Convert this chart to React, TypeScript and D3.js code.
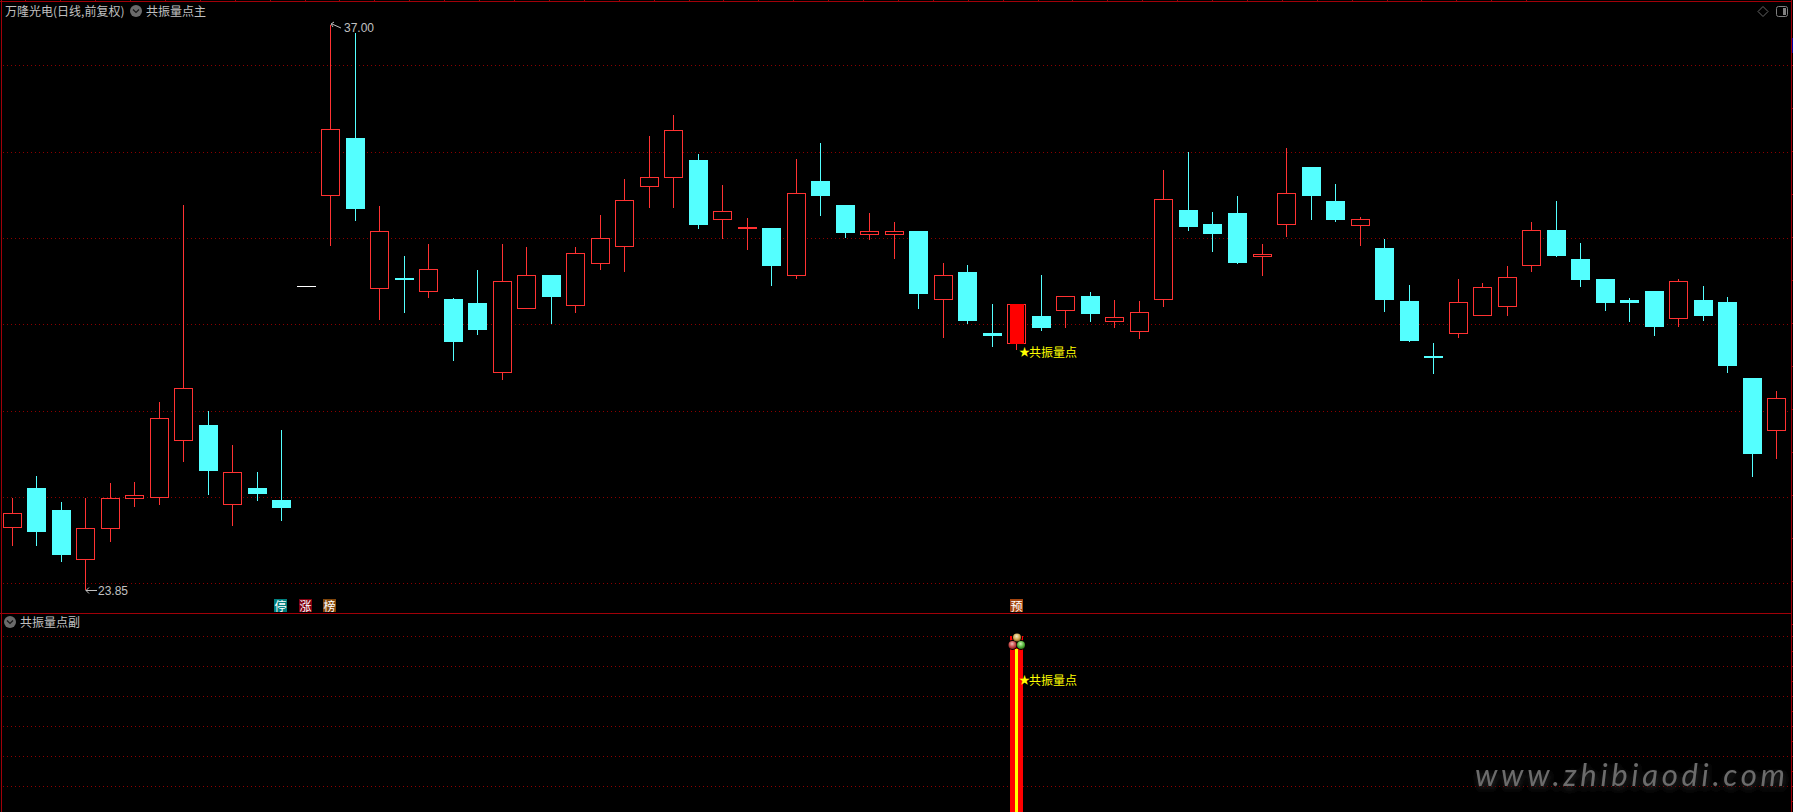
import React from "react";
import * as d3 from "d3";

const WIDTH = 1793;
const HEIGHT = 812;

// Daily bars (open / high / low / close, oldest first)
const opens = [25.32,26.22,25.71,24.57,25.29,25.99,26.01,27.34,27.69,25.85,26.22,25.94,30.93,33.04,34.37,30.88,31.11,30.81,30.62,30.53,28.92,30.41,31.18,30.48,31.46,31.86,33.25,33.46,33.86,32.49,32.28,32.28,31.18,33.37,32.81,32.14,32.14,32.21,30.62,31.25,29.83,29.60,30.23,30.37,30.69,30.11,29.88,30.62,32.69,32.37,32.62,31.62,32.37,33.70,32.90,32.35,31.81,30.58,29.30,29.83,30.25,30.46,31.41,32.23,31.55,31.09,30.60,30.81,30.18,30.60,30.55,28.78,27.57];
const highs = [25.99,26.50,25.90,25.99,26.34,26.36,28.23,32.81,28.02,27.23,26.60,27.57,30.93,37.00,36.81,32.79,31.62,31.90,30.65,31.30,31.90,31.83,31.18,31.83,32.58,33.42,34.42,34.91,34.00,33.28,32.51,32.28,33.88,34.25,32.81,32.62,32.41,32.21,31.46,31.41,30.51,30.51,31.18,30.69,30.79,30.60,30.58,33.63,34.04,32.65,33.02,31.90,34.14,33.70,33.30,32.53,32.02,30.95,29.60,31.09,31.00,31.39,32.41,32.90,31.93,31.09,30.65,30.81,31.09,30.93,30.67,28.78,28.48];
const lows = [24.87,24.87,24.50,23.85,24.97,25.78,25.83,26.83,26.06,25.34,25.92,25.46,30.93,31.86,32.44,30.13,30.30,30.65,29.18,29.79,28.74,30.41,30.04,30.30,31.30,31.25,32.74,32.74,32.25,32.02,31.76,30.93,31.09,32.55,32.04,32.00,31.55,30.39,29.72,30.04,29.51,29.44,29.88,29.95,30.09,29.95,29.69,30.44,32.21,31.72,31.44,31.16,32.07,32.46,32.41,31.86,30.32,29.62,28.88,29.72,30.25,30.23,31.25,31.60,30.90,30.34,30.09,29.76,29.97,30.11,28.90,26.48,26.90];
const closes = [25.64,25.20,24.66,25.29,25.99,26.06,27.85,28.55,26.62,26.60,26.08,25.76,30.93,34.58,32.72,32.21,31.07,31.32,29.62,29.90,31.04,31.18,30.67,31.69,32.04,32.93,33.46,34.56,32.35,32.67,32.30,31.39,33.09,33.02,32.16,32.21,32.21,30.74,31.18,30.11,29.76,30.51,29.95,30.69,30.27,30.20,30.32,32.95,32.30,32.14,31.46,31.67,33.09,33.02,32.46,32.49,30.60,29.65,29.25,30.55,30.90,31.14,32.23,31.62,31.07,30.53,30.53,29.97,31.04,30.23,29.06,27.02,28.32];
// 0 = falling (cyan), 1 = rising (red outline), 2 = flat (white)
const kinds = [1,0,0,1,1,1,1,1,0,1,0,0,2,1,0,1,0,1,0,0,1,1,0,1,1,1,1,1,0,1,1,0,1,0,0,1,1,0,1,0,0,1,0,1,0,1,1,1,0,0,0,1,1,0,0,1,0,0,0,1,1,1,1,0,0,0,0,0,1,0,0,0,1];

const priceGrid = [36.07, 34.05, 32.05, 30.05, 28.02, 26.01, 24.01];
const subGrid = [0, 1, 2, 3, 4, 5];
const priceDomain = [23.85, 37];
const subDomain = [0, 5];
const signalIndex = 41;
const highIndex = 13;
const lowIndex = 3;
const tagLabels = [
  { index: 11, text: "停", color: "#007f7f" },
  { index: 12, text: "涨", color: "#800010" },
  { index: 13, text: "榜", color: "#80450a" },
  { index: 41, text: "预", color: "#a5450f" },
];

const RED = "#ff3232";
const CYAN = "#54ffff";
const FRAME = "#a00008";
const GRID = "#8c0000";
const CJK = "'Noto Sans CJK SC', sans-serif";

const x = d3.scaleLinear().domain([0, 72]).range([12, 12 + 72 * 24.51]);
const y = d3.scaleLinear().domain(priceDomain).range([590, 25]);
const sub = d3.scaleLinear().domain(subDomain).range([786, 636]);
const px = (i: number) => Math.floor(x(i));
const py = (v: number) => Math.round(y(v));

function Candle({ i }: { i: number }) {
  const c = px(i) + 0.5;
  const kind = kinds[i];
  const top = py(Math.max(opens[i], closes[i]));
  const bot = py(Math.min(opens[i], closes[i]));
  const hi = py(highs[i]);
  const lo = py(lows[i]);
  if (kind === 2) {
    return <line x1={c - 9.5} x2={c + 9.5} y1={top + 0.5} y2={top + 0.5} stroke="#ffffff" />;
  }
  const color = kind === 1 ? RED : CYAN;
  return (
    <g>
      <line x1={c} x2={c} y1={hi} y2={lo} stroke={color} />
      {kind === 1 ? (
        <rect x={c - 9} y={top + 0.5} width={18} height={bot - top} fill="#000" stroke={color} />
      ) : (
        <rect x={c - 9.5} y={top} width={19} height={bot - top} fill={color} />
      )}
    </g>
  );
}

function Chevron({ cx, cy }: { cx: number; cy: number }) {
  return (
    <g>
      <circle cx={cx} cy={cy} r={6} fill="#6a6a6a" />
      <path d={`M${cx - 3},${cy - 1.5}L${cx},${cy + 1.5}L${cx + 3},${cy - 1.5}`} fill="none" stroke="#161616" strokeWidth={1.2} />
    </g>
  );
}

function Signal({ cy }: { cy: number }) {
  return (
    <text y={cy} fill="#ffff00" fontFamily={CJK} fontSize={12} dominantBaseline="central">
      <tspan x={1019} fontSize={11}>★</tspan>
      <tspan x={1029}>共振量点</tspan>
    </text>
  );
}

export default function App() {
  const sig = px(signalIndex);
  const sigTop = py(closes[signalIndex]);
  const sigBot = py(opens[signalIndex]);
  const colTop = sub(subDomain[1]);
  const topTicks = d3.range(44).map((k) => Math.round(25.4 + k * 34.9));
  const rightMain = d3.range(14).map((k) => 65 + k * 43);
  const rightSub = d3.range(12).map((k) => 636 + k * 15);
  return (
    <svg
      width={WIDTH}
      height={HEIGHT}
      viewBox={`0 0 ${WIDTH} ${HEIGHT}`}
      style={{ position: "fixed", left: 0, top: 0, background: "#000", display: "block" }}
    >
      <defs>
        <radialGradient id="ballY" cx="45%" cy="35%" r="65%">
          <stop offset="0%" stopColor="#f4ecc8" />
          <stop offset="60%" stopColor="#d0a850" />
          <stop offset="100%" stopColor="#80601c" />
        </radialGradient>
        <radialGradient id="ballR" cx="45%" cy="35%" r="65%">
          <stop offset="0%" stopColor="#f0c0b8" />
          <stop offset="60%" stopColor="#c84848" />
          <stop offset="100%" stopColor="#802020" />
        </radialGradient>
        <radialGradient id="ballG" cx="45%" cy="35%" r="65%">
          <stop offset="0%" stopColor="#d0f0b8" />
          <stop offset="60%" stopColor="#58b840" />
          <stop offset="100%" stopColor="#2a7018" />
        </radialGradient>
        <filter id="wm" x="-5%" y="-40%" width="110%" height="200%">
          <feDropShadow dx={1} dy={3} stdDeviation={3} floodColor="#303030" />
        </filter>
      </defs>
      <rect width={WIDTH} height={HEIGHT} fill="#000" />

      {priceGrid.map((v) => (
        <line key={v} x1={3} x2={1791} y1={py(v) + 0.5} y2={py(v) + 0.5} stroke={GRID} strokeDasharray="1 3" />
      ))}
      {subGrid.map((v) => (
        <line key={v} x1={3} x2={1791} y1={sub(v) + 0.5} y2={sub(v) + 0.5} stroke={GRID} strokeDasharray="1 3" />
      ))}

      <line x1={0} x2={1792} y1={1.5} y2={1.5} stroke={FRAME} />
      <line x1={1.5} x2={1.5} y1={0} y2={HEIGHT} stroke={FRAME} />
      <line x1={1791.5} x2={1791.5} y1={0} y2={HEIGHT} stroke={FRAME} />
      <line x1={0} x2={1792} y1={613.5} y2={613.5} stroke={FRAME} />
      {topTicks.map((t) => (
        <line key={t} x1={t + 0.5} x2={t + 0.5} y1={0} y2={1} stroke={FRAME} />
      ))}
      {rightMain.concat(rightSub).map((t) => (
        <line key={t} x1={1792} x2={1793} y1={t + 0.5} y2={t + 0.5} stroke={FRAME} />
      ))}
      <line x1={1792.5} x2={1792.5} y1={38} y2={53} stroke="#0000a0" />

      {opens.map((_, i) => (
        <Candle key={i} i={i} />
      ))}
      <rect x={sig - 6} y={sigTop} width={14} height={sigBot - sigTop + 1} fill="#ff0000" />

      <text x={5} y={10} fill="#c0c0c0" fontFamily={CJK} fontSize={12} dominantBaseline="central">
        万隆光电(日线,前复权)
      </text>
      <Chevron cx={136} cy={11} />
      <text x={146} y={10} fill="#c0c0c0" fontFamily={CJK} fontSize={12} dominantBaseline="central">
        共振量点主
      </text>
      <Chevron cx={10} cy={622} />
      <text x={20} y={621} fill="#c0c0c0" fontFamily={CJK} fontSize={12} dominantBaseline="central">
        共振量点副
      </text>

      <path d="M1758,11.5L1763,6.5L1768,11.5L1763,16.5Z" fill="none" stroke="#666" />
      <rect x={1776.5} y={6.5} width={11} height={10} rx={2} fill="none" stroke="#808080" />
      <rect x={1783} y={8} width={3} height={7} fill="#808080" />

      <path
        d={`M${px(highIndex) + 11},${py(highs[highIndex]) + 3}L${px(highIndex) + 2},${py(highs[highIndex]) - 1}M${px(highIndex) + 4},${py(highs[highIndex]) - 3}L${px(highIndex) + 1},${py(highs[highIndex]) - 1}L${px(highIndex) + 3},${py(highs[highIndex]) + 2}`}
        fill="none"
        stroke="#c0c0c0"
      />
      <text x={344} y={27.5} fill="#c0c0c0" fontFamily="'Liberation Sans', sans-serif" fontSize={12} dominantBaseline="central">
        {highs[highIndex].toFixed(2)}
      </text>
      <path
        d={`M${px(lowIndex) + 12},${py(lows[lowIndex]) + 0.5}L${px(lowIndex) + 1},${py(lows[lowIndex]) + 0.5}M${px(lowIndex) + 4},${py(lows[lowIndex]) - 2.5}L${px(lowIndex) + 1},${py(lows[lowIndex]) + 0.5}L${px(lowIndex) + 4},${py(lows[lowIndex]) + 3.5}`}
        fill="none"
        stroke="#c0c0c0"
      />
      <text x={98} y={591} fill="#c0c0c0" fontFamily="'Liberation Sans', sans-serif" fontSize={12} dominantBaseline="central">
        {lows[lowIndex].toFixed(2)}
      </text>

      <Signal cy={351} />

      {tagLabels.map((t) => (
        <g key={t.text}>
          <rect x={px(t.index) - 7 + (t.index === 41 ? 1 : 0)} y={599} width={13} height={13} fill={t.color} />
          <text
            x={px(t.index) - 0.5 + (t.index === 41 ? 1 : 0)}
            y={605}
            fill="#fff"
            fontFamily={CJK}
            fontSize={12}
            textAnchor="middle"
            dominantBaseline="central"
          >
            {t.text}
          </text>
        </g>
      ))}

      <rect x={sig - 6} y={colTop} width={13} height={HEIGHT - colTop} fill="#ff0000" />
      <rect x={sig - 1} y={colTop + 13} width={3} height={HEIGHT - colTop} fill="#ffff00" />
      <circle cx={sig + 1} cy={colTop + 1.5} r={5} fill="#000" />
      <circle cx={sig - 3.5} cy={colTop + 9} r={5} fill="#000" />
      <circle cx={sig + 5} cy={colTop + 9} r={5} fill="#000" />
      <circle cx={sig + 1} cy={colTop + 1.5} r={4} fill="url(#ballY)" />
      <circle cx={sig - 3.5} cy={colTop + 9} r={4} fill="url(#ballR)" />
      <circle cx={sig + 5} cy={colTop + 9} r={4} fill="url(#ballG)" />

      <Signal cy={679} />

      <text
        x={1475}
        y={786}
        fill="#6c6c6c"
        fontFamily="Lato, sans-serif"
        fontStyle="italic"
        fontSize={31}
        textLength={310}
        lengthAdjust="spacing"
        filter="url(#wm)"
      >
        www.zhibiaodi.com
      </text>
    </svg>
  );
}
